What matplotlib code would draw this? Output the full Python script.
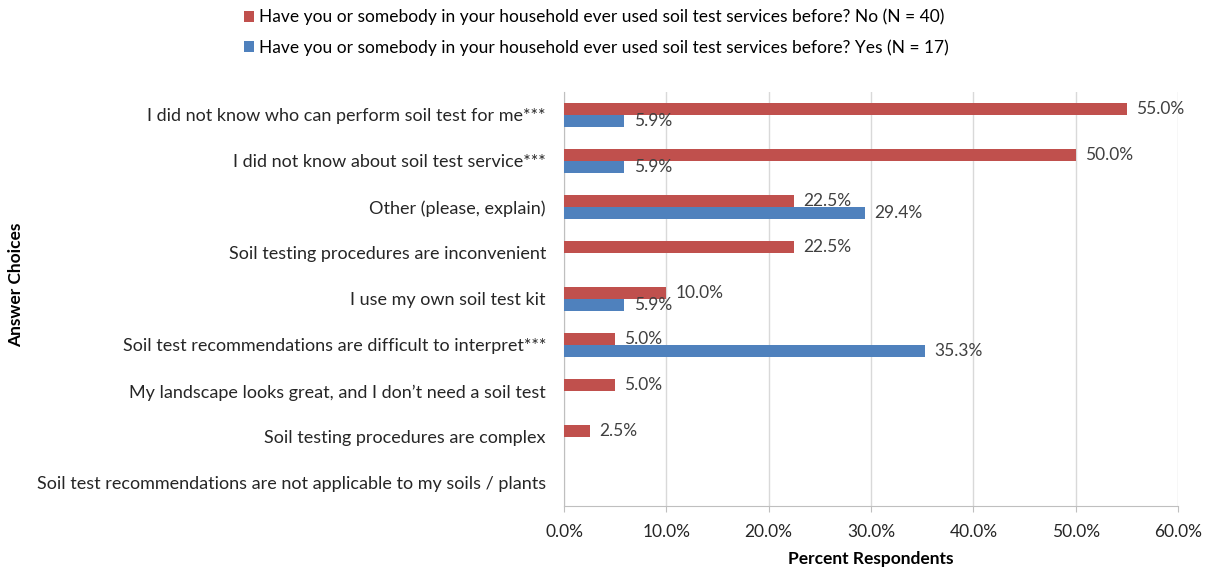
import matplotlib.pyplot as plt
import numpy as np

plt.rcParams['font.family'] = ['Lato', 'DejaVu Sans']

# Answer choices, top to bottom
choices = [
    "I did not know who can perform soil test for me***",
    "I did not know about soil test service***",
    "Other (please, explain)",
    "Soil testing procedures are inconvenient",
    "I use my own soil test kit",
    "Soil test recommendations are difficult to interpret***",
    "My landscape looks great, and I don\u2019t need a soil test",
    "Soil testing procedures are complex",
    "Soil test recommendations are not applicable to my soils / plants",
]
no_vals = [55.0, 50.0, 22.5, 22.5, 10.0, 5.0, 5.0, 2.5, 0.0]
yes_vals = [5.9, 5.9, 29.4, 0.0, 5.9, 35.3, 0.0, 0.0, 0.0]
no_label = "Have you or somebody in your household ever used soil test services before? No (N = 40)"
yes_label = "Have you or somebody in your household ever used soil test services before? Yes (N = 17)"

red = "#C0504D"
blue = "#4F81BD"
fs = 12.5

fig = plt.figure(figsize=(12.06, 5.70), dpi=100)
ax = fig.add_axes([0.4677, 0.1123, 0.5091, 0.7263])

y = np.arange(len(choices))
h = 0.27
b1 = ax.barh(y - h / 2, no_vals, height=h, color=red, label=no_label, zorder=3)
b2 = ax.barh(y + h / 2, yes_vals, height=h, color=blue, label=yes_label, zorder=3)

for vals, ys in ((no_vals, y - h / 2), (yes_vals, y + h / 2)):
    for v, yy in zip(vals, ys):
        if v > 0:
            ax.text(v + 0.9, yy, f"{v:.1f}%", va="center", ha="left",
                    fontsize=fs, color="#404040", zorder=4)

ax.set_ylim(len(choices) - 0.5, -0.5)
ax.set_xlim(0, 60)
ax.set_xticks(np.arange(0, 61, 10))
ax.set_xticklabels([f"{t:.1f}%" for t in np.arange(0, 61, 10)])
ax.set_yticks(y)
ax.set_yticklabels(choices)
ax.tick_params(axis="y", length=0, pad=13, labelsize=13, labelcolor="#262626")
ax.tick_params(axis="x", length=4, color="#BFBFBF", pad=9, labelsize=fs, labelcolor="#262626")
ax.grid(axis="x", color="#D9D9D9", linewidth=1, zorder=0)
for s in ("top", "right"):
    ax.spines[s].set_visible(False)
ax.spines["left"].set_color("#BFBFBF")
ax.spines["bottom"].set_color("#BFBFBF")

ax.set_xlabel("Percent Respondents", fontsize=fs, fontweight="bold", labelpad=8)
fig.text(0.013, 0.5, "Answer Choices", rotation=90, va="center", ha="center",
         fontsize=fs, fontweight="bold")

fig.legend(handles=[b1, b2], loc="upper left", bbox_to_anchor=(0.189, 1.012),
           frameon=False, fontsize=fs, handlelength=0.6, handleheight=0.6,
           handletextpad=0.3, labelspacing=0.8)

fig.savefig("out.png", dpi=100)
